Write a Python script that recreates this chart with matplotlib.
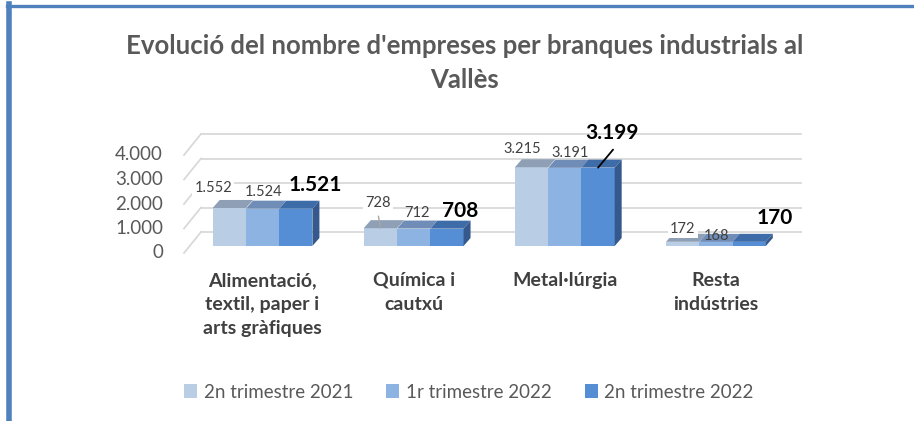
import numpy as np
import matplotlib
matplotlib.use("Agg")
import matplotlib.pyplot as plt
from matplotlib.patches import Polygon, Rectangle
from matplotlib.transforms import ScaledTranslation, IdentityTransform

plt.rcParams['font.family'] = ['Lato', 'DejaVu Sans']

# ---- data ----
categories = ['Alimentació,\ntextil, paper i\narts gràfiques', 'Química i\ncautxú',
              'Metal·lúrgia', 'Resta\nindústries']
series_names = ['2n trimestre 2021', '1r trimestre 2022', '2n trimestre 2022']
t2_2021 = [1552, 728, 3215, 172]
t1_2022 = [1524, 712, 3191, 168]
t2_2022 = [1521, 708, 3199, 170]
y_ticks = [0, 1000, 2000, 3000, 4000]
y_tick_labels = ['0', '1.000', '2.000', '3.000', '4.000']

title = "Evolució del nombre d'empreses per branques industrials al\nVallès"

front_colors = ['#B9CDE5', '#8DB3E2', '#558ED5']
top_colors = ['#8E9FB6', '#6F8DB6', '#3E6CA8']
side_color = '#35598C'

W, H, DPI = 914, 421, 100
fig = plt.figure(figsize=(W / DPI, H / DPI), dpi=DPI)

# axes = bar front plane: pixels 190..790 in x, value 0 at y=246px, 24.5px per 1000
ax_l, ax_r = 190, 790
y0_px, top_px = 246, 246 - 5000 * 0.0245
ax = fig.add_axes([ax_l / W, (H - y0_px) / H, (ax_r - ax_l) / W, (y0_px - top_px) / H])
ax.set_xlim(-0.48, 3.49)
ax.set_ylim(0, 5000)
ax.axis('off')

def px_off(dx, dy):
    # shift in pixels (dy positive = up)
    return ScaledTranslation(dx / DPI, dy / DPI, fig.dpi_scale_trans)

back = (11, 14)
front = (-6, -7)
x_lo, x_hi = ax.get_xlim()
grid_c = '#D9D9D9'

# gridlines on the back wall and the slanted left wall
for v in y_ticks:
    ax.plot([x_lo, x_hi], [v, v], color=grid_c, lw=1.3,
            transform=ax.transData + px_off(*back), zorder=1, clip_on=False)
    p = ax.transData.transform((x_lo, v))
    seg = np.array([p + front, p + back])
    ax.plot(seg[:, 0], seg[:, 1], color=grid_c, lw=1.3, transform=IdentityTransform(),
            zorder=1, clip_on=False)

for v, lab in zip(y_ticks, y_tick_labels):
    ax.annotate(lab, (x_lo, v), xytext=(front[0] - 21, front[1]), textcoords='offset pixels',
                ha='right', va='center', fontsize=13.5, color='#595959', annotation_clip=False)

# bars with fake depth
n = len(series_names)
bw = 0.22
xs = np.arange(len(categories))
series = [t2_2021, t1_2022, t2_2022]
depth = np.array([7, 8])
for i, vals in enumerate(series):
    pos = xs + (i - 1) * bw
    ax.bar(pos, vals, width=bw, color=front_colors[i], zorder=3, linewidth=0)
    for x, v in zip(pos, vals):
        a = ax.transData.transform((x - bw / 2, v))
        b = ax.transData.transform((x + bw / 2, v))
        ax.add_patch(Polygon([a, b, b + depth, a + depth], closed=True, transform=IdentityTransform(),
                             facecolor=top_colors[i], lw=0, zorder=4, clip_on=False))
        if i == n - 1:
            c = ax.transData.transform((x + bw / 2, 0))
            ax.add_patch(Polygon([c, b, b + depth, c + depth], closed=True, transform=IdentityTransform(),
                                 facecolor=side_color, lw=0, zorder=4, clip_on=False))

# data labels (offsets in pixels from bar top centre)
label_offsets = [
    [(-16, 20), (-2, 25), (-9, 18), (0, 13)],
    [(1, 17), (3, 16), (5, 15), (1, 6)],
    [(19, 24), (13, 18), (14, 35), (26, 24)],
]
for i, vals in enumerate(series):
    pos = xs + (i - 1) * bw
    for j, (x, v) in enumerate(zip(pos, vals)):
        txt = f'{v:,}'.replace(',', '.')
        dx, dy = label_offsets[i][j]
        if i == n - 1:
            ax.annotate(txt, (x, v), xytext=(dx, dy), textcoords='offset pixels',
                        ha='center', va='center', fontsize=15, fontweight='bold',
                        color='black', zorder=6, annotation_clip=False)
        else:
            ax.annotate(txt, (x, v), xytext=(dx, dy), textcoords='offset pixels',
                        ha='center', va='center', fontsize=10.5, color='#404040', zorder=6,
                        bbox=dict(boxstyle='square,pad=0.15', fc='white', ec='none') if i == 0 else None,
                        annotation_clip=False)

# leader lines
ax.annotate('', (xs[1] - bw, t2_2021[1]), xytext=(-2, 12), textcoords='offset pixels',
            arrowprops=dict(arrowstyle='-', color='#A6A6A6', lw=1, shrinkA=0, shrinkB=0), zorder=5)
ax.annotate('', (xs[2] + bw, t2_2022[2]), xytext=(15, 18), textcoords='offset pixels',
            arrowprops=dict(arrowstyle='-', color='black', lw=1.3, shrinkA=0, shrinkB=0), zorder=5)

# category labels
for x, c in zip(xs, categories):
    ax.annotate(c, (x, 0), xytext=(0, -26), textcoords='offset pixels', ha='center', va='top',
                fontsize=14, fontweight='bold', color='#404040', linespacing=1.5,
                annotation_clip=False)

fig.text(465 / W, 1 - 63 / H, title, ha='center', va='center', fontsize=18.5, fontweight='bold',
         color='#595959', linespacing=1.5)

# legend
handles = [Rectangle((0, 0), 1, 1, fc=c, ec='none') for c in front_colors]
fig.legend(handles, series_names, loc='center', bbox_to_anchor=(469 / W, 1 - 392 / H), ncol=3,
           frameon=False, fontsize=13.5, labelcolor='#595959', handlelength=0.7, handleheight=0.7,
           handletextpad=0.35, columnspacing=1.75)

# chart border (only top and left visible)
fig.add_artist(plt.Line2D([8.5 / W, 8.5 / W], [0, 1 - 4 / H], color='#4F81BD', lw=4))
fig.add_artist(plt.Line2D([6.5 / W, 1], [1 - 5.5 / H, 1 - 5.5 / H], color='#4F81BD', lw=2.4))

fig.savefig('out.png', dpi=DPI)
